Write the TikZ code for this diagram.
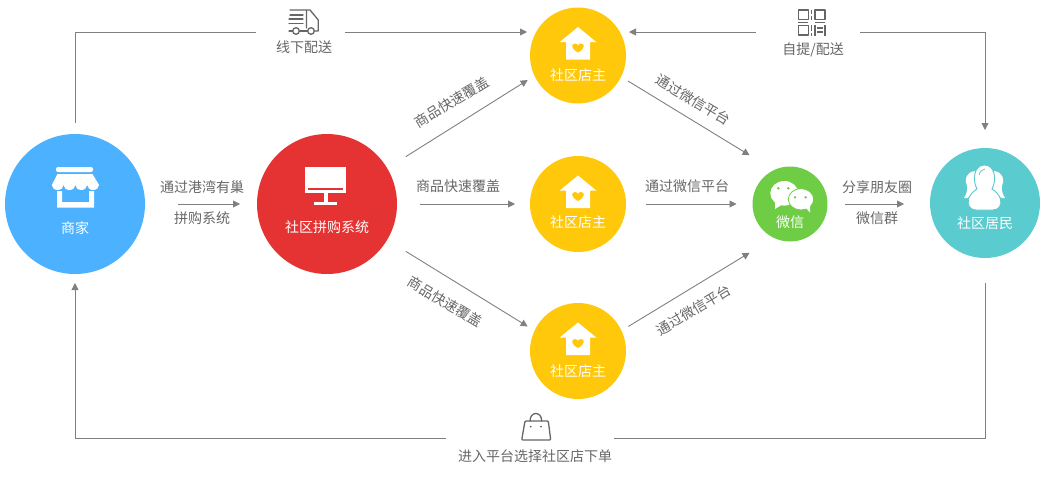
\documentclass[tikz,border=0pt]{standalone}
\usepackage{fontspec}
\setmainfont{Noto Sans CJK SC}
\usetikzlibrary{arrows.meta, calc}
\definecolor{shopblue}{HTML}{4CB1FF}
\definecolor{sysred}{HTML}{E53333}
\definecolor{storeyellow}{HTML}{FFC80A}
\definecolor{wxgreen}{HTML}{6ECD45}
\definecolor{peopleteal}{HTML}{5ACBCF}
\definecolor{linegray}{HTML}{808080}
\definecolor{textgray}{HTML}{666666}
\tikzset{
  hub/.style={circle, inner sep=0pt, text=white},
  hubcap/.style={text=white, font=\fontsize{14}{16}\selectfont, inner sep=0pt},
  note/.style={text=textgray, font=\fontsize{14}{16}\selectfont, inner sep=0pt},
  linegap/.style={inner sep=0pt, minimum height=1pt},
  link/.style={draw=linegray, line width=0.9pt},
  tiplink/.style={link, -{Triangle[length=7pt, width=7pt]}},
  glyph/.style={draw=textgray, line width=1.3pt, line cap=round, line join=round},
  % white icons, coordinates relative to the circle centre
  house/.pic={
    \fill[white] (0,-28.5) -- (18.5,-13.3) -- (12,-13.3) -- (12,4) -- (-12,4) -- (-12,-13.3) -- (-18.5,-13.3) -- cycle;
    \fill[storeyellow] (0,-3) .. controls (-7.5,-7) and (-7,-12) .. (-2.8,-12) .. controls (-1.4,-12) and (-.5,-11) .. (0,-10)
      .. controls (.5,-11) and (1.4,-12) .. (2.8,-12) .. controls (7,-12) and (7.5,-7) .. (0,-3);
  }
}
\begin{document}
\begin{tikzpicture}[x=1pt, y=-1pt]
  \useasboundingbox (0,0) rectangle (1046,482);
  % circles
  \node[hub, fill=shopblue, minimum size=140pt, outer sep=9pt] (merchant) at (75,204) {};
  \node[hub, fill=sysred, minimum size=140pt, outer sep=22pt] (system) at (327,204) {};
  \node[hub, fill=storeyellow, minimum size=96pt, outer sep=8pt] (store1) at (578,55.5) {};
  \node[hub, fill=storeyellow, minimum size=96pt, outer sep=8pt] (store2) at (578,204) {};
  \node[hub, fill=storeyellow, minimum size=96pt, outer sep=8pt] (store3) at (578,351) {};
  \node[hub, fill=wxgreen, minimum size=75pt, outer sep=16pt] (wechat) at (790,204) {};
  \node[hub, fill=peopleteal, minimum size=110pt, outer sep=18pt] (resident) at (985,203) {};
  % gaps in the long lines
  \node[linegap, minimum width=89pt] (truck) at (300.5,32) {};
  \node[linegap, minimum width=104pt] (qrcode) at (808,32) {};
  \node[linegap, minimum width=168pt] (bag) at (530,438) {};
  % connectors
  \draw[link, shorten <=2pt] (merchant) |- (truck);
  \draw[tiplink, shorten >=-5pt] (truck) -- (truck -| store1.west);
  \draw[tiplink, shorten >=-5pt] (qrcode) -- (qrcode -| store1.east);
  \draw[tiplink] (qrcode) -| (resident);
  \draw[link, shorten <=7pt] (resident) |- (bag);
  \draw[tiplink] (bag) -| (merchant);
  \draw[tiplink, shorten <=24pt, shorten >=-5pt] (merchant) -- (system);
  \draw[tiplink] (system.31.6) -- (store1.206.6);
  \draw[tiplink, shorten <=1pt, shorten >=7pt] (system) -- (store2);
  \draw[tiplink] (system.-31.6) -- (store3.154.8);
  \draw[tiplink, shorten >=10.5pt] (store1.-27) -- (wechat.126.3);
  \draw[tiplink, shorten <=12pt] (store2) -- (wechat);
  \draw[tiplink, shorten >=10.5pt] (store3.26.6) -- (wechat.-126.3);
  \draw[tiplink, shorten <=1.5pt, shorten >=8pt] (wechat) -- (wechat -| resident.west);
  % captions in the circles
  \node[hubcap] (merchantcap) at (75,228) {商家};
  \node[hubcap] (systemcap) at (327,227) {社区拼购系统};
  \node[hubcap] (store1cap) at (578,75) {社区店主};
  \node[hubcap] (store2cap) at (578,222) {社区店主};
  \node[hubcap] (store3cap) at (578,371) {社区店主};
  \node[hubcap] (wechatcap) at (790,222) {微信};
  \node[hubcap] (residentcap) at (985,223) {社区居民};
  % labels
  \node[note] (trucknote) at (304,47) {线下配送};
  \node[note] (qrnote) at (813,50) {自提/配送};
  \node[note] (bagnote) at (535,456) {进入平台选择社区店下单};
  \node[note] (sell1) at (202,187) {通过港湾有巢};
  \node[note] (sell2) at (202,218) {拼购系统};
  \node[note, rotate=31] (cover1) at (452,102) {商品快速覆盖};
  \node[note] (cover2) at (458,186) {商品快速覆盖};
  \node[note, rotate=-31] (cover3) at (445,302) {商品快速覆盖};
  \node[note, rotate=-31] (via1) at (693,100) {通过微信平台};
  \node[note] (via2) at (687,186) {通过微信平台};
  \node[note, rotate=31] (via3) at (693.5,310) {通过微信平台};
  \node[note] (share1) at (877,187) {分享朋友圈};
  \node[note] (share2) at (877,218) {微信群};
  % store icons
  \pic at (store1) {house};
  \pic at (store2) {house};
  \pic at (store3) {house};
  % merchant icon
  \fill[white, rounded corners=2pt] (56,167) rectangle (93,172);
  \fill[white] (57.5,174) -- (92.5,174) -- (99,185) arc (0:180:5.9 and 5) arc (0:180:5.9 and 5) arc (0:180:5.9 and 5) arc (0:180:5.9 and 5) -- cycle;
  \fill[white] (57,191) -- (62,191) -- (62,202) -- (89,202) -- (89,191) -- (94,191) -- (94,207.5) -- (57,207.5) -- cycle;
  % monitor icon
  \fill[white] (305,167) rectangle (346,193);
  \fill[sysred] (308,188) rectangle (343,190);
  \fill[white] (324,193) rectangle (327.5,202);
  \fill[white] (314,202) rectangle (337,204.5);
  % wechat icon
  \fill[white] (784.3,193.3) ellipse [x radius=14, y radius=12.3];
  \fill[white] (775,202) -- (775,209) -- (783,204) -- cycle;
  \fill[white, draw=wxgreen, line width=.8pt] (801,199.3) ellipse [x radius=12.7, y radius=10.7];
  \fill[white] (805,207) -- (810,212.5) -- (810,205) -- cycle;
  \fill[wxgreen] (778.3,188.3) circle (1.4) (788.3,188.3) circle (1.4) (795,197.3) circle (1.3) (805.7,197.3) circle (1.3);
  % resident icon
  \fill[white] (975,171) .. controls (966,172) and (964,180) .. (967,186) .. controls (968,190) and (966,195) .. (964,198) .. controls (968,199) and (972,196) .. (976,190) -- cycle;
  \fill[white] (994,171) .. controls (1003,172) and (1005,180) .. (1002,186) .. controls (1001,190) and (1003,195) .. (1005,198) .. controls (1001,199) and (997,196) .. (993,190) -- cycle;
  \fill[white, draw=peopleteal, line width=.9pt] (976,210) .. controls (970,210) and (967,205) .. (968.5,199) .. controls (970,194) and (974,191) .. (977,189)
    .. controls (972,180) and (974,165) .. (984.5,165) .. controls (995,165) and (997,180) .. (992,189)
    .. controls (995,191) and (999,194) .. (1000.5,199) .. controls (1002,205) and (999,210) .. (993,210) -- cycle;
  \draw[peopleteal, line width=.8pt] (979,175) .. controls (980,171) and (982,169.5) .. (985,169);
  % truck icon
  \draw[glyph] (290,10) -- (306.5,10) -- (306.5,28) (306.5,10) -- (310,10) -- (318.3,20) -- (318.3,31) -- (314.5,31);
  \draw[glyph] (307.5,31) -- (299.5,31) (292.5,31) -- (289,31);
  \draw[glyph] (290,15) -- (303,15) (289,19) -- (303,19) (289,23.5) -- (303,23.5);
  \draw[glyph] (296,31) circle (3.3) (311,31) circle (3.3);
  % qr icon
  \draw[glyph, line cap=butt] (798.3,10) rectangle (808.3,19.3) (815,10) rectangle (825,19.3) (798.3,25.5) rectangle (808.3,35);
  \draw[glyph, line cap=butt] (798.3,22.8) -- (808.3,22.8) (815,22.8) -- (825,22.8);
  \draw[glyph, line cap=butt] (811.7,9.5) -- (811.7,13.5) (811.7,15.5) -- (811.7,20) (811.7,25) -- (811.7,31) (811.7,33) -- (811.7,35.5);
  \draw[glyph, line cap=butt] (815,25) -- (815,35.5) (825,25) -- (825,35.5) (817,28) -- (823,28) (817,32) -- (823,32);
  % bag icon
  \draw[glyph, rounded corners=1pt] (525,421) -- (548.3,421) -- (550.7,440) -- (521.7,440) -- cycle;
  \draw[glyph] (530,421) .. controls (530,411) and (541.7,411) .. (541.7,421);
  \fill[textgray] (530.7,426.7) circle (1) (541,426.7) circle (1);
\end{tikzpicture}
\end{document}
